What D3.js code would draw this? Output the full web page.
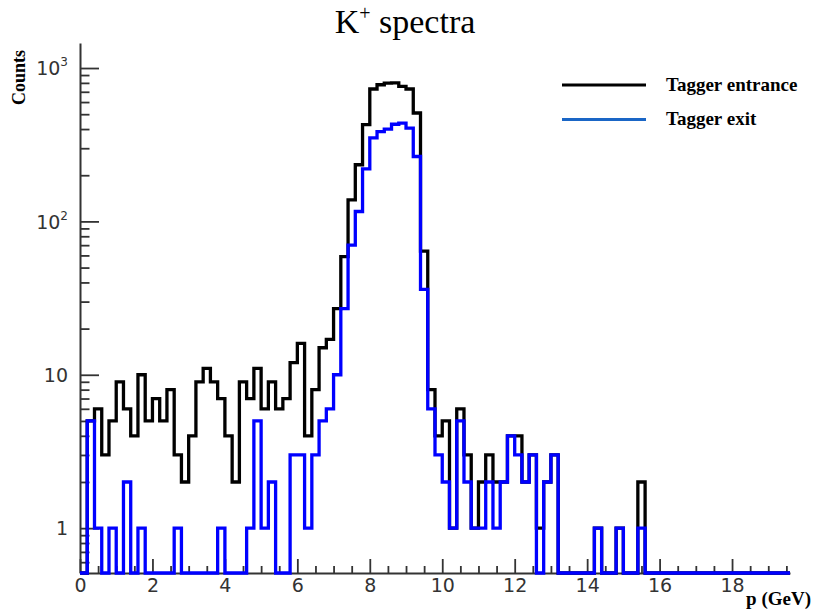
<!DOCTYPE html>
<html>
<head>
<meta charset="utf-8">
<script src="https://cdn.jsdelivr.net/npm/d3@7"></script>
<style>
  body { margin: 0; background: #fff; }
</style>
</head>
<body>
<script>
const width = 814;
const height = 610;

// histogram: 0.2 GeV bins starting at 0
const binWidth = 0.2;

// K+ counts at the tagger entrance (black)
const entrance = [
  0, 5, 6, 3, 5, 9, 6, 4, 10, 5,
  7, 5, 8, 3, 2, 4, 9, 11, 9, 7,
  4, 2, 9, 7, 11, 6, 9, 6, 7, 12,
  16, 4, 8, 15, 17, 27, 59, 138, 234, 427,
  730, 778, 798, 800, 760, 730, 509, 64, 8, 4,
  5, 1, 6, 3, 1, 2, 3, 2, 2, 4,
  4, 2, 3, 1, 2, 3, 0, 0, 0, 0,
  0, 1, 0, 0, 1, 0, 0, 2, 0, 0,
  0, 0, 0, 0, 0, 0, 0, 0, 0, 0,
  0, 0, 0, 0, 0, 0, 0, 0
];

// K+ counts at the tagger exit (blue)
const exitCounts = [
  0, 5, 1, 0, 1, 0, 2, 0, 1, 0,
  0, 0, 0, 1, 0, 0, 0, 0, 0, 1,
  0, 0, 0, 1, 5, 1, 2, 0, 0, 3,
  3, 1, 3, 5, 6, 10, 27, 70, 116, 220,
  350, 385, 400, 430, 437, 406, 265, 36, 6, 3,
  2, 1, 5, 2, 1, 1, 2, 1, 2, 4,
  3, 2, 3, 0, 2, 3, 0, 0, 0, 0,
  0, 1, 0, 0, 1, 0, 0, 1, 0, 0,
  0, 0, 0, 0, 0, 0, 0, 0, 0, 0,
  0, 0, 0, 0, 0, 0, 0, 0
];

const xTickValues = [0, 2, 4, 6, 8, 10, 12, 14, 16, 18];
const yTickValues = [1, 10, 100, 1000];
const yTickBase = ["1", "10", "10", "10"];
const yTickExp = ["", "", "2", "3"];
const legendLabels = ["Tagger entrance", "Tagger exit"];
const legendColors = ["#000000", "#1a66c6"];
const histColors = ["#000000", "#0000ff"];

const x = d3.scaleLinear().domain([0, 19.6]).range([80, 790]);
const y = d3.scaleLog().domain([0.51, 1456]).range([573, 43]);
const yMin = y.domain()[0];

const svg = d3.select("body").append("svg")
  .attr("width", width)
  .attr("height", height)
  .style("font-family", "DejaVu Sans, sans-serif");

// x axis - major ticks pointing up into the frame
const xAxis = d3.axisBottom(x)
  .tickValues(xTickValues)
  .tickSizeInner(-14)
  .tickSizeOuter(0)
  .tickPadding(6)
  .tickFormat(d3.format("d"));

const xMinor = d3.axisBottom(x)
  .tickValues(d3.range(0, 19.6, 0.5).filter(v => v % 2 !== 0))
  .tickSizeInner(-7)
  .tickSizeOuter(0)
  .tickFormat("");

const gx = svg.append("g")
  .attr("transform", `translate(0,${y.range()[0]})`)
  .call(xAxis);
svg.append("g")
  .attr("transform", `translate(0,${y.range()[0]})`)
  .call(xMinor)
  .select(".domain").remove();

gx.selectAll("text")
  .attr("font-size", 19)
  .attr("font-family", "DejaVu Sans, sans-serif")
  .attr("fill", "#333");

// y axis (log)
const yAxis = d3.axisLeft(y)
  .tickValues(yTickValues)
  .tickSizeInner(-19)
  .tickSizeOuter(0)
  .tickPadding(12)
  .tickFormat("");

const yMinorValues = [];
[0.1, 1, 10, 100].forEach(dec => {
  [2, 3, 4, 5, 6, 7, 8, 9].forEach(m => {
    const v = m * dec;
    if (v > yMin && v < y.domain()[1]) yMinorValues.push(v);
  });
});

const yMinor = d3.axisLeft(y)
  .tickValues(yMinorValues)
  .tickSizeInner(-9.5)
  .tickSizeOuter(0)
  .tickFormat("");

const gy = svg.append("g")
  .attr("transform", `translate(${x.range()[0]},0)`)
  .call(yAxis);
svg.append("g")
  .attr("transform", `translate(${x.range()[0]},0)`)
  .call(yMinor)
  .select(".domain").remove();

gy.selectAll(".tick text").each(function(d, i) {
  const t = d3.select(this)
    .attr("font-size", 19)
    .attr("font-family", "DejaVu Sans, sans-serif")
    .attr("fill", "#333")
    .attr("dy", "0.36em");
  t.append("tspan").text(yTickBase[i]);
  if (yTickExp[i]) {
    t.append("tspan")
      .attr("font-size", 12)
      .attr("dy", "-0.75em")
      .text(yTickExp[i]);
  }
});

svg.selectAll(".domain")
  .attr("stroke", "#333")
  .attr("stroke-width", 2);
svg.selectAll(".tick line")
  .attr("stroke", "#333")
  .attr("stroke-width", 1.8);

// histogram outlines
function stepPoints(counts) {
  const pts = [[0, 0]];
  counts.forEach((c, i) => {
    pts.push([i * binWidth, c]);
    pts.push([(i + 1) * binWidth, c]);
  });
  pts.push([counts.length * binWidth, 0]);
  return pts;
}

const line = d3.line()
  .x(d => x(d[0]))
  .y(d => y(Math.max(d[1], yMin)));

[entrance, exitCounts].forEach((counts, i) => {
  svg.append("path")
    .datum(stepPoints(counts))
    .attr("fill", "none")
    .attr("stroke", histColors[i])
    .attr("stroke-width", 3.3)
    .attr("stroke-linejoin", "miter")
    .attr("d", line);
});

// title
const title = svg.append("text")
  .attr("x", 405)
  .attr("y", 33)
  .attr("text-anchor", "middle")
  .attr("font-family", "Liberation Serif, Times New Roman, serif")
  .attr("font-size", 34)
  .attr("fill", "#000");
title.append("tspan").text("K");
title.append("tspan").attr("font-size", 20).attr("dy", -13).text("+");
title.append("tspan").attr("dy", 13).text(" spectra");

// axis titles
svg.append("text")
  .attr("x", 811)
  .attr("y", 605)
  .attr("text-anchor", "end")
  .attr("font-family", "Liberation Serif, Times New Roman, serif")
  .attr("font-weight", "bold")
  .attr("font-size", 19)
  .text("p (GeV)");

svg.append("text")
  .attr("transform", "translate(25,50) rotate(-90)")
  .attr("text-anchor", "end")
  .attr("font-family", "Liberation Serif, Times New Roman, serif")
  .attr("font-weight", "bold")
  .attr("font-size", 18)
  .text("Counts");

// legend
const legend = svg.append("g");
legendLabels.forEach((label, i) => {
  const ly = 85 + i * 34.5;
  legend.append("line")
    .attr("x1", 562).attr("x2", 646)
    .attr("y1", ly).attr("y2", ly)
    .attr("stroke", legendColors[i])
    .attr("stroke-width", 3);
  legend.append("text")
    .attr("x", 666)
    .attr("y", ly + 5.5)
    .attr("font-family", "Liberation Serif, Times New Roman, serif")
    .attr("font-weight", "bold")
    .attr("font-size", 19)
    .text(label);
});
</script>
</body>
</html>
